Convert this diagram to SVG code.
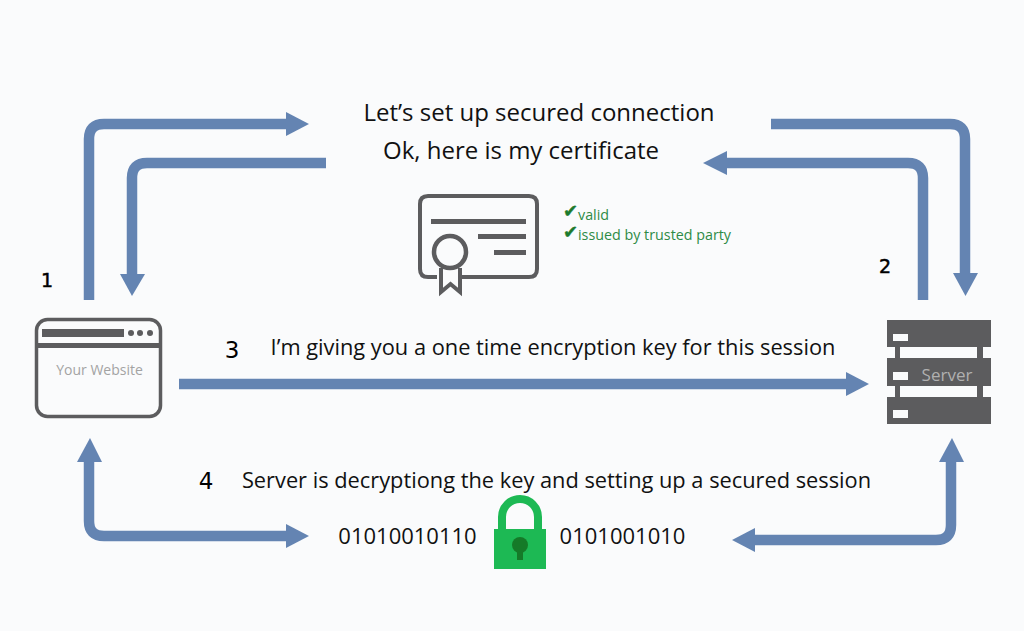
<svg xmlns="http://www.w3.org/2000/svg" width="1024" height="631" viewBox="0 0 1024 631">
<style>
.c{fill:none;stroke:#6484b2;stroke-width:10.5}
.h{fill:#6484b2}
.t{font-family:"Open Sans","Noto Sans",sans-serif;fill:#111;font-size:24px}
.s{font-family:"Open Sans","Noto Sans",sans-serif;fill:#111;font-size:21.8px}
.b{font-family:"Open Sans","Noto Sans",sans-serif;fill:#111;font-size:22px}
.n{font-family:"DejaVu Sans",sans-serif;fill:#000}
.g{font-family:"Open Sans","Noto Sans",sans-serif;fill:#2e8b46;font-size:14.3px}
.k{font-family:"DejaVu Sans",sans-serif;fill:#1c7a2c;font-size:18px;stroke:#1c7a2c;stroke-width:.4}
.l{font-family:"Open Sans","Noto Sans",sans-serif;fill:#a3a3a3}
.i{fill:none;stroke:#5c5c5e;stroke-width:4}
.d{fill:#5c5c5e}
.w{fill:#fafbfc}
</style>
<rect width="1024" height="631" fill="#fafbfc"/>
<g id="connectors">
<path class="c" d="M89 300V139Q89 124 104 124H288"/><path class="h" d="M286 112L309 124L286 136Z"/>
<path class="c" d="M326 163H147Q132 163 132 178V275"/><path class="h" d="M120 274H145L132 296Z"/>
<path class="c" d="M771 124H950Q965 124 965 139V275"/><path class="h" d="M953 273H978L965.5 296Z"/>
<path class="c" d="M923 300V178Q923 163 908 163H725"/><path class="h" d="M727 151L703 163L727 175Z"/>
<path class="c" d="M179 384H848"/><path class="h" d="M846 372L869 384L846 396Z"/>
<path class="c" d="M89 460V521Q89 536 104 536H288"/><path class="h" d="M77 462L90 438L102 462Z"/><path class="h" d="M286 524L309 536L286 548Z"/>
<path class="c" d="M951 460V525Q951 540 936 540H755"/><path class="h" d="M939 462L952 438L964 462Z"/><path class="h" d="M755 528L732 540L755 552Z"/>
</g>
<g id="label-top"><text class="t" x="539" y="121" text-anchor="middle">Let’s set up secured connection</text><text class="t" x="521" y="159" text-anchor="middle">Ok, here is my certificate</text></g>
<g id="certificate">
<path class="i" d="M437 277H428Q420 277 420 269V204Q420 196 428 196H529Q537 196 537 204V269Q537 277 529 277H462"/>
<path class="d" d="M431 219H526V224H431ZM478 234H526V239H478ZM494 250H526V255H494Z"/>
<circle class="i" cx="450" cy="252" r="16" style="stroke-width:4.5"/>
<path class="i" d="M441 268V292L450.5 284L460 292V268"/>
</g>
<g id="checks"><text class="k" x="563" y="217">✔</text><text class="g" x="578" y="220">valid</text><text class="k" x="563" y="238">✔</text><text class="g" x="578" y="240">issued by trusted party</text></g>
<g id="website">
<rect class="i" x="36.500" y="319.500" width="124" height="97" rx="11" style="stroke-width:3.5"/>
<path class="d" d="M36 343H161V348H36ZM42 329H124V337H42Z"/>
<circle class="d" cx="131" cy="333" r="3"/><circle class="d" cx="140" cy="333" r="3"/><circle class="d" cx="150" cy="333" r="3"/>
<text class="l" x="99.500" y="375" text-anchor="middle" font-size="14">Your Website</text>
<text class="n" x="47" y="287" font-size="19" text-anchor="middle" stroke="#000" stroke-width=".5">1</text>
</g>
<g id="server">
<path class="d" d="M887 320H991V347H983V358H991V386H983V397H991V424H887V397H895V386H887V358H895V347H887Z"/>
<path class="w" d="M900 347H977V358H900ZM900 386H977V397H900ZM893 334H908V341H893ZM893 372H908V380H893ZM893 410H908V418H893Z"/>
<text class="l" x="947" y="381" text-anchor="middle" font-size="17" style="fill:#b0b0b0">Server</text>
<text class="n" x="885" y="273" font-size="19" text-anchor="middle" stroke="#000" stroke-width=".5">2</text>
</g>
<g id="label-3"><text class="n" x="232" y="358" font-size="23" text-anchor="middle">3</text><text class="s" x="553" y="355" text-anchor="middle">I’m giving you a one time encryption key for this session</text></g>
<g id="label-4"><text class="n" x="206" y="489" font-size="23" text-anchor="middle">4</text><text class="s" x="556.500" y="488" text-anchor="middle">Server is decryptiong the key and setting up a secured session</text></g>
<g id="lock">
<path d="M502 530V517A18 18 0 0 1 538 517V530" fill="none" stroke="#1db954" stroke-width="8"/>
<rect x="494" y="529" width="52" height="40" fill="#1db954"/>
<circle cx="520" cy="545" r="8" fill="#157a28"/><rect x="517" y="547" width="6" height="13" fill="#157a28"/>
</g>
<g id="binary"><text class="b" x="407.500" y="544" text-anchor="middle">01010010110</text><text class="b" x="622.500" y="544" text-anchor="middle">0101001010</text></g>
</svg>
